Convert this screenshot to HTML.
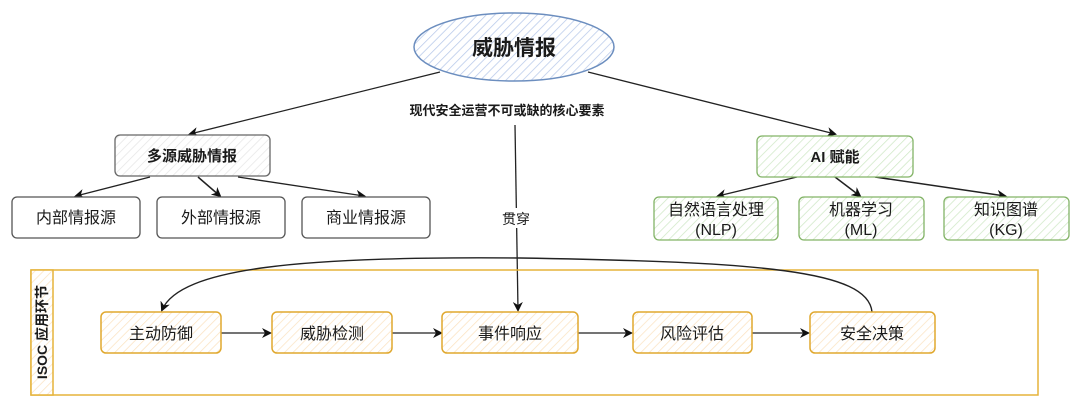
<!DOCTYPE html>
<html><head><meta charset="utf-8"><style>
html,body{margin:0;padding:0;background:#fff;width:1080px;height:406px;overflow:hidden}
text{font-family:"Liberation Sans","Noto Sans CJK SC",sans-serif;fill:#1a1a1a}
</style></head><body>
<svg width="1080" height="406" viewBox="0 0 1080 406" xmlns="http://www.w3.org/2000/svg">
<defs>
<pattern id="hb" width="6" height="6" patternUnits="userSpaceOnUse" patternTransform="rotate(45)"><rect width="6" height="6" fill="#fff"/><line x1="0" y1="0" x2="0" y2="6" stroke="#b8c9ea" stroke-width="1.5"/></pattern>
<pattern id="hg" width="6" height="6" patternUnits="userSpaceOnUse" patternTransform="rotate(45)"><rect width="6" height="6" fill="#fff"/><line x1="0" y1="0" x2="0" y2="6" stroke="#cfe8c6" stroke-width="1.5"/></pattern>
<pattern id="hy" width="6" height="6" patternUnits="userSpaceOnUse" patternTransform="rotate(45)"><rect width="6" height="6" fill="#fff"/><line x1="0" y1="0" x2="0" y2="6" stroke="#fbe3c2" stroke-width="1.5"/></pattern>
<pattern id="hgr" width="6" height="6" patternUnits="userSpaceOnUse" patternTransform="rotate(45)"><rect width="6" height="6" fill="#fff"/><line x1="0" y1="0" x2="0" y2="6" stroke="#e6e6e6" stroke-width="1.5"/></pattern>
<marker id="a" markerWidth="10" markerHeight="10" refX="8" refY="5" orient="auto" markerUnits="userSpaceOnUse"><path d="M0,0 L10,5 L0,10 L3,5 z" fill="#111"/></marker>
</defs>

<line x1="440" y1="72" x2="190" y2="134" stroke="#222" stroke-width="1.3" marker-end="url(#a)"/>
<line x1="588" y1="72" x2="835" y2="134" stroke="#222" stroke-width="1.3" marker-end="url(#a)"/>
<line x1="515" y1="125" x2="518" y2="310" stroke="#222" stroke-width="1.3" marker-end="url(#a)"/>
<rect x="498" y="208" width="36" height="20" fill="#fff"/>
<text x="516" y="224" font-size="14" text-anchor="middle">贯穿</text>

<ellipse cx="514" cy="47" rx="100" ry="34" fill="url(#hb)" stroke="#6c8ebf" stroke-width="1.5"/>
<text x="514" y="55" font-size="21" font-weight="bold" text-anchor="middle">威胁情报</text>
<text x="507" y="115" font-size="13" font-weight="bold" text-anchor="middle">现代安全运营不可或缺的核心要素</text>

<line x1="150" y1="177" x2="76" y2="196" stroke="#222" stroke-width="1.3" marker-end="url(#a)"/>
<line x1="198" y1="177" x2="220" y2="196" stroke="#222" stroke-width="1.5" marker-end="url(#a)"/>
<line x1="238" y1="177" x2="364" y2="196" stroke="#222" stroke-width="1.3" marker-end="url(#a)"/>
<rect x="115" y="135" width="155" height="41" rx="5" fill="url(#hgr)" stroke="#666" stroke-width="1.3"/>
<text x="192" y="161" font-size="15" font-weight="bold" text-anchor="middle">多源威胁情报</text>
<rect x="12" y="197" width="128" height="41" rx="5" fill="#fff" stroke="#555" stroke-width="1.3"/>
<text x="76" y="223" font-size="16" text-anchor="middle">内部情报源</text>
<rect x="157" y="197" width="128" height="41" rx="5" fill="#fff" stroke="#555" stroke-width="1.3"/>
<text x="221" y="223" font-size="16" text-anchor="middle">外部情报源</text>
<rect x="302" y="197" width="128" height="41" rx="5" fill="#fff" stroke="#555" stroke-width="1.3"/>
<text x="366" y="223" font-size="16" text-anchor="middle">商业情报源</text>

<line x1="797" y1="177" x2="718" y2="196" stroke="#222" stroke-width="1.3" marker-end="url(#a)"/>
<line x1="835" y1="177" x2="860" y2="196" stroke="#222" stroke-width="1.5" marker-end="url(#a)"/>
<line x1="875" y1="177" x2="1005" y2="196" stroke="#222" stroke-width="1.5" marker-end="url(#a)"/>
<rect x="757" y="136" width="156" height="41" rx="5" fill="url(#hg)" stroke="#82b366" stroke-width="1.3"/>
<text x="835" y="162" font-size="15" font-weight="bold" text-anchor="middle">AI 赋能</text>
<rect x="654" y="197" width="124" height="43" rx="5" fill="url(#hg)" stroke="#82b366" stroke-width="1.3"/>
<text x="716" y="215" font-size="16" text-anchor="middle">自然语言处理</text>
<text x="716" y="235" font-size="16" text-anchor="middle">(NLP)</text>
<rect x="799" y="197" width="125" height="43" rx="5" fill="url(#hg)" stroke="#82b366" stroke-width="1.3"/>
<text x="861" y="215" font-size="16" text-anchor="middle">机器学习</text>
<text x="861" y="235" font-size="16" text-anchor="middle">(ML)</text>
<rect x="944" y="197" width="125" height="43" rx="5" fill="url(#hg)" stroke="#82b366" stroke-width="1.3"/>
<text x="1006" y="215" font-size="16" text-anchor="middle">知识图谱</text>
<text x="1006" y="235" font-size="16" text-anchor="middle">(KG)</text>

<rect x="31" y="270" width="1007" height="125" fill="none" stroke="#e5b33a" stroke-width="1.5"/>
<rect x="31" y="270" width="22" height="125" fill="url(#hy)" stroke="#e5b33a" stroke-width="1.5"/>
<text transform="translate(47,332) rotate(-90)" font-size="14" font-weight="bold" text-anchor="middle">ISOC 应用环节</text>

<path d="M872,312 C868,270 760,262 520,258 C300,256 180,268 162,310" fill="none" stroke="#222" stroke-width="1.4" marker-end="url(#a)"/>

<g stroke="#222" stroke-width="1.3">
<line x1="221" y1="333" x2="270" y2="333" marker-end="url(#a)"/>
<line x1="392" y1="333" x2="441" y2="333" marker-end="url(#a)"/>
<line x1="578" y1="333" x2="631" y2="333" marker-end="url(#a)"/>
<line x1="752" y1="333" x2="808" y2="333" marker-end="url(#a)"/>
</g>
<g fill="url(#hy)" stroke="#e0a82e" stroke-width="1.5">
<rect x="101" y="312" width="120" height="41" rx="5"/>
<rect x="272" y="312" width="120" height="41" rx="5"/>
<rect x="442" y="312" width="136" height="41" rx="5"/>
<rect x="633" y="312" width="119" height="41" rx="5"/>
<rect x="810" y="312" width="125" height="41" rx="5"/>
</g>
<text x="161" y="339" font-size="16" text-anchor="middle">主动防御</text>
<text x="332" y="339" font-size="16" text-anchor="middle">威胁检测</text>
<text x="510" y="339" font-size="16" text-anchor="middle">事件响应</text>
<text x="692" y="339" font-size="16" text-anchor="middle">风险评估</text>
<text x="872" y="339" font-size="16" text-anchor="middle">安全决策</text>
</svg>
</body></html>
